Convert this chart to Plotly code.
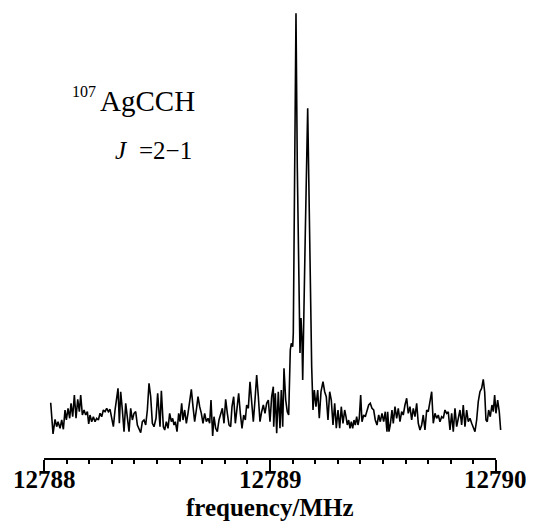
import plotly.graph_objects as go

# ---- data ----
freq_mhz = [
    12788.0295, 12788.0398, 12788.0487, 12788.0560, 12788.0619, 12788.0708, 12788.0782, 12788.0855,
    12788.0929, 12788.0988, 12788.1062, 12788.1136, 12788.1195, 12788.1268, 12788.1342, 12788.1416,
    12788.1490, 12788.1563, 12788.1622, 12788.1696, 12788.1770, 12788.1844, 12788.1917, 12788.1976,
    12788.2035, 12788.2109, 12788.2183, 12788.2257, 12788.2330, 12788.2404, 12788.2478, 12788.2552,
    12788.2625, 12788.2699, 12788.2773, 12788.2847, 12788.2920, 12788.2994, 12788.3068, 12788.3142,
    12788.3215, 12788.3274, 12788.3333, 12788.3392, 12788.3466, 12788.3540, 12788.3614, 12788.3687,
    12788.3761, 12788.3835, 12788.3909, 12788.3982, 12788.4056, 12788.4130, 12788.4204, 12788.4277,
    12788.4351, 12788.4425, 12788.4499, 12788.4572, 12788.4646, 12788.4720, 12788.4794, 12788.4867,
    12788.4956, 12788.5029, 12788.5133,
    12788.5192, 12788.5280, 12788.5339, 12788.5413, 12788.5487, 12788.5560, 12788.5634, 12788.5693,
    12788.5752, 12788.5811, 12788.5885, 12788.5958, 12788.6017, 12788.6091, 12788.6150, 12788.6224,
    12788.6298, 12788.6371, 12788.6445, 12788.6519, 12788.6593, 12788.6666, 12788.6740, 12788.6814,
    12788.6888, 12788.6961, 12788.7035, 12788.7109, 12788.7183, 12788.7256, 12788.7330, 12788.7389,
    12788.7463, 12788.7522, 12788.7596, 12788.7669, 12788.7743, 12788.7817, 12788.7891, 12788.7964,
    12788.8038, 12788.8112, 12788.8186, 12788.8259, 12788.8318, 12788.8392, 12788.8466, 12788.8540,
    12788.8613, 12788.8687, 12788.8761, 12788.8835, 12788.8908, 12788.8967, 12788.9041, 12788.9115,
    12788.9189, 12788.9262, 12788.9336, 12788.9410, 12788.9484, 12788.9557, 12788.9631, 12788.9705,
    12788.9779, 12788.9852, 12788.9926, 12789.0000, 12789.0074, 12789.0147,
    12789.0164, 12789.0235, 12789.0296, 12789.0367, 12789.0442, 12789.0500, 12789.0562, 12789.0619,
    12789.0695, 12789.0765, 12789.0827, 12789.0898, 12789.0942, 12789.1004, 12789.1031, 12789.1093,
    12789.1150, 12789.1208, 12789.1270, 12789.1327, 12789.1372, 12789.1416, 12789.1447, 12789.1491,
    12789.1562, 12789.1668, 12789.1739, 12789.1801, 12789.1845, 12789.1903,
    12789.1960, 12789.2035, 12789.2111, 12789.2181, 12789.2257, 12789.2345, 12789.2420, 12789.2491,
    12789.2566, 12789.2642, 12789.2712, 12789.2788, 12789.2863, 12789.2934, 12789.3009, 12789.3084,
    12789.3155, 12789.3230, 12789.3305, 12789.3363, 12789.3420, 12789.3482, 12789.3540, 12789.3597,
    12789.3659, 12789.3717, 12789.3774, 12789.3836, 12789.3894, 12789.3951, 12789.4013, 12789.4071,
    12789.4146, 12789.4217, 12789.4292, 12789.4367, 12789.4438, 12789.4513, 12789.4588, 12789.4659,
    12789.4735, 12789.4810, 12789.4881, 12789.4956, 12789.5031, 12789.5102, 12789.5177,
    12789.5208, 12789.5265, 12789.5323, 12789.5398, 12789.5456, 12789.5531, 12789.5606, 12789.5677,
    12789.5752, 12789.5827, 12789.5898, 12789.5973, 12789.6049, 12789.6119, 12789.6195, 12789.6270,
    12789.6341, 12789.6416, 12789.6491, 12789.6562, 12789.6637, 12789.6712, 12789.6783, 12789.6858,
    12789.6934, 12789.7004, 12789.7080, 12789.7155, 12789.7226, 12789.7301, 12789.7376, 12789.7447,
    12789.7522, 12789.7597, 12789.7668, 12789.7743, 12789.7819, 12789.7889, 12789.7965, 12789.8040,
    12789.8111, 12789.8186, 12789.8261, 12789.8332, 12789.8407, 12789.8482, 12789.8553, 12789.8628,
    12789.8704, 12789.8774, 12789.8850, 12789.8925, 12789.8996, 12789.9071, 12789.9146, 12789.9217,
    12789.9292, 12789.9367, 12789.9438, 12789.9500, 12789.9558, 12789.9615, 12789.9677, 12789.9748,
    12789.9823, 12789.9881, 12789.9942, 12790.0000, 12790.0075, 12790.0146, 12790.0208,
]

intensity = [
    17.3, -14.0, 0.7, -6.7, -1.7, -8.3, 0.0, -9.3,
    10.0, 0.0, 11.7, 1.7, 16.7, 3.3, 25.0, 1.7,
    20.7, 8.3, 25.0, 5.0, 10.0, 5.0, 8.3, -4.0,
    5.0, -1.7, 3.3, -1.7, 1.7, 0.0, 6.7, 3.3,
    10.0, 8.3, 11.7, 8.3, 10.7, 0.0, -6.7, 10.0,
    20.0, 31.7, -3.3, 28.3, 10.0, -11.7, 16.7, 0.0,
    -11.7, 11.7, 0.0, 6.7, 8.3, -5.0, -8.3, -12.7,
    -1.7, 0.0, -5.0, 10.0, 36.7, 23.3, -3.3, -6.7,
    1.7, 26.7, -6.7,
    29.3, -6.7, -10.0, -1.7, -8.3, 6.7, -1.7, 1.7,
    -5.0, -1.7, -11.7, 6.7, -1.7, 16.7, 0.0, 10.0,
    -3.3, 6.7, 16.7, 30.7, 13.3, -1.7, 10.0, 23.3,
    13.3, 6.7, -3.3, 6.7, -1.7, 1.7, -3.3, 20.0,
    -16.0, 3.3, -8.3, -11.7, 0.0, 5.0, 11.7, -3.3,
    20.7, 6.7, -5.0, -6.7, 13.3, 23.3, -3.3, 11.7,
    26.7, 6.7, -8.3, 5.0, 0.0, 15.0, 11.7, 38.3,
    13.3, -1.7, 20.0, 45.0, 23.3, -1.7, 8.3, 15.0,
    6.7, 16.7, 20.0, -1.7, 23.3, 33.3,
    -6.7, 26.7, -13.3, 28.3, -8.3, 30.0, -6.7, 51.7,
    20.0, 8.3, 5.0, 70.0, 76.7, 73.3, 86.7, 287.0,
    406.7, 253.3, 120.0, 67.0, 102.0, 80.0, 40.0, 107.0,
    187.0, 311.7, 187.0, 103.0, 53.0, 10.0,
    30.0, 13.3, 30.0, 1.7, 28.3, 38.3, 28.3, 23.3,
    0.0, 28.3, 20.0, -5.0, 16.7, -8.3, 10.0, -8.3,
    13.3, -3.3, 10.0, 3.3, -5.0, 0.0, -8.3, -1.7,
    -8.3, 0.0, -5.0, 3.3, -5.0, 1.7, 25.0, -1.7,
    5.0, 3.3, 10.0, 15.0, 16.7, 11.7, 10.0, 0.0,
    -5.0, 5.0, -1.7, 6.7, -1.7, 8.3, -11.7,
    8.3, -11.7, -5.0, 10.0, -3.3, 13.3, 1.7, 11.7,
    -1.7, 8.3, 5.0, 15.0, 21.7, 6.7, 13.3, 0.0,
    11.7, 3.3, 16.7, -3.3, -10.0, -5.0, 5.0, -10.0,
    10.0, 8.3, 20.0, 28.3, -3.3, 6.7, 1.7, 5.0,
    -1.7, 3.3, 1.7, 10.0, 6.7, 8.3, -10.0, 6.7,
    -11.7, 11.7, -6.7, 1.7, 10.0, -5.0, 15.0, -6.7,
    10.0, -1.7, 1.7, -3.3, -6.7, -11.7, 0.0, 18.3,
    28.3, 31.7, 40.7, 28.3, 0.0, -1.7, 10.0, 3.3,
    15.0, 8.3, 25.0, 6.7, 20.0, 8.3, -10.0,
]

major_ticks = [12788, 12789, 12790]
major_labels = ["12788", "12789", "12790"]
minor_ticks = [12788 + k / 10 for k in range(1, 20) if k != 10]

x_title = "frequency/MHz"
isotope = "107"
molecule = "AgCCH"
transition_j = "J"
transition_rest = "=2\u22121"

# ---- geometry (page shows the figure offset by the 8px body margin) ----
OFF = 8
W, H = 534 - OFF, 522 - OFF
PL, PR, PT, PB = 35, 505, 8, 459          # plot area in page pixels
ML, MT = PL - OFF, PT - OFF
MR = W - (PR - OFF)
MB = H - (PB - OFF)
x_range = [12787.96, 12790.04]
y_range = [420 - PB, 420 - PT]
plot_h = PB - PT


def py_to_paper(py):
    return (PB - py) / plot_h


def px_to_x(px):
    return x_range[0] + (px - PL) / (PR - PL) * (x_range[1] - x_range[0])


fig = go.Figure()
fig.add_trace(go.Scatter(
    x=freq_mhz, y=intensity, mode="lines",
    line=dict(color="black", width=1.6),
    hoverinfo="skip", showlegend=False,
))

serif = "Liberation Serif, Times New Roman, serif"

fig.update_layout(
    width=W, height=H,
    margin=dict(l=ML, r=MR, t=MT, b=MB, pad=0),
    paper_bgcolor="white", plot_bgcolor="white",
    showlegend=False,
    xaxis=dict(
        range=x_range,
        showgrid=False, zeroline=False, showline=False,
        tickmode="array", tickvals=major_ticks, showticklabels=False,
        ticks="outside", ticklen=12, tickwidth=1.8, tickcolor="black",
        minor=dict(tickmode="array", tickvals=minor_ticks, ticks="outside",
                   ticklen=4, tickwidth=1.8, tickcolor="black", showgrid=False),
    ),
    yaxis=dict(range=y_range, visible=False, showgrid=False, zeroline=False),
)

fig.add_shape(type="line", xref="x", yref="paper",
              x0=major_ticks[0], x1=major_ticks[-1], y0=0, y1=0,
              line=dict(color="black", width=2))

for tv, tl in zip(major_ticks, major_labels):
    fig.add_annotation(text=tl, xref="x", yref="paper",
                       x=tv, y=py_to_paper(479), xanchor="center", yanchor="middle",
                       showarrow=False, borderpad=0,
                       font=dict(family=serif, size=25, color="black", weight="bold"))

fig.add_annotation(text=x_title, xref="x", yref="paper",
                   x=major_ticks[1], y=py_to_paper(507), xanchor="center", yanchor="middle",
                   showarrow=False, borderpad=0,
                   font=dict(family=serif, size=25, color="black", weight="bold"))

fig.add_annotation(text=molecule, xref="x", yref="paper",
                   x=px_to_x(99), y=py_to_paper(111 - 0.3375 * 29), xanchor="left", yanchor="middle",
                   showarrow=False, borderpad=0,
                   font=dict(family=serif, size=29, color="black"))
fig.add_annotation(text=isotope, xref="x", yref="paper",
                   x=px_to_x(97), y=py_to_paper(97 - 0.3375 * 16), xanchor="right", yanchor="middle",
                   showarrow=False, borderpad=0,
                   font=dict(family=serif, size=16, color="black"))
fig.add_annotation(text="<i>" + transition_j + "</i>", xref="x", yref="paper",
                   x=px_to_x(114), y=py_to_paper(159 - 0.3375 * 25), xanchor="left", yanchor="middle",
                   showarrow=False, borderpad=0,
                   font=dict(family=serif, size=25, color="black"))
fig.add_annotation(text=transition_rest, xref="x", yref="paper",
                   x=px_to_x(193), y=py_to_paper(159 - 0.3375 * 25), xanchor="right", yanchor="middle",
                   showarrow=False, borderpad=0,
                   font=dict(family=serif, size=25, color="black"))

fig.write_html("out.html")
